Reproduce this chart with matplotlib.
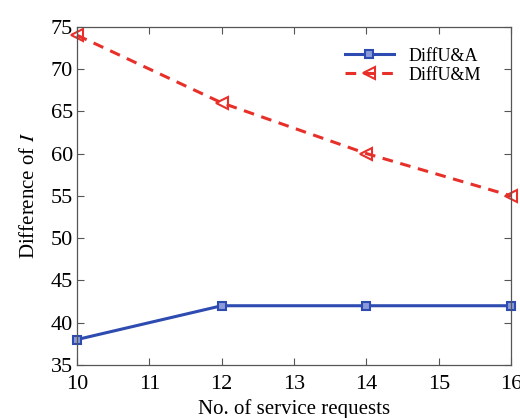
import matplotlib
matplotlib.use('Agg')
import matplotlib.pyplot as plt

plt.rcParams['font.family'] = ['Liberation Serif', 'DejaVu Serif']
plt.rcParams['mathtext.fontset'] = 'stix'

x = [10, 12, 14, 16]
diff_ua = [38, 42, 42, 42]
diff_um = [74, 66, 60, 55]
xticks = [10, 11, 12, 13, 14, 15, 16]
yticks = [35, 40, 45, 50, 55, 60, 65, 70, 75]

fig = plt.figure(figsize=(5.2, 4.18), dpi=100)
ax = fig.add_axes([0.148, 0.127, 0.835, 0.809])

ax.plot(x, diff_ua, color='#2d4bb0', lw=2.2, marker='s', ms=6,
        mfc='#8a9bd8', mec='#2d4bb0', mew=1.5, label='DiffU&A', clip_on=False)
ax.plot(x, diff_um, color='#e8302a', lw=2.2, ls='--', dashes=(3.5, 2.5), marker='<', ms=8,
        mfc='none', mec='#e8302a', mew=1.5, label='DiffU&M', clip_on=False)

ax.set_xlim(10, 16)
ax.set_ylim(35, 75)
ax.set_xticks(xticks)
ax.set_yticks(yticks)
ax.tick_params(direction='in', top=True, right=True, labelsize=16, length=5,
               color='#555555', pad=3)
ax.tick_params(axis='x', pad=7)
for s in ax.spines.values():
    s.set_linewidth(0.9)
    s.set_color('#555555')

ax.set_xlabel('No. of service requests', fontsize=15, labelpad=4)
ax.set_ylabel('Difference of $I$', fontsize=15, labelpad=8)

ax.legend(loc='upper right', bbox_to_anchor=(0.967, 0.986), frameon=False,
          fontsize=13, handlelength=2.7, labelspacing=0.1)

fig.savefig('out.png', dpi=100)
